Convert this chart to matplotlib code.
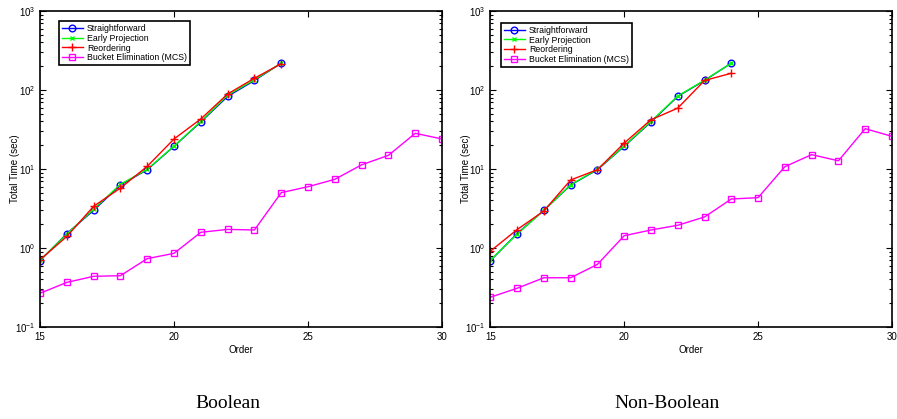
import matplotlib.pyplot as plt
import numpy as np

plt.rcParams['font.family'] = ['Liberation Sans', 'DejaVu Sans']

order = np.arange(15, 31)
order_short = np.arange(15, 25)

# Boolean
bool_straight = [0.69, 1.52, 3.0, 6.27, 9.8, 19.4, 39.4, 83, 132, 219]
bool_early = [0.70, 1.50, 3.1, 6.4, 9.9, 19.5, 40, 86, 135, 218]
bool_reorder = [0.71, 1.40, 3.37, 5.74, 10.8, 24, 43, 89, 141, 215]
bool_bucket = [0.267, 0.367, 0.438, 0.446, 0.733, 0.856, 1.58, 1.72, 1.69,
               5.02, 5.97, 7.4, 11.3, 14.9, 28.3, 24]

# Non-Boolean
nb_straight = [0.69, 1.52, 3.0, 6.27, 9.8, 19.4, 39.4, 83, 132, 219]
nb_early = [0.70, 1.50, 3.0, 6.3, 9.9, 19.6, 40, 84, 133, 218]
nb_reorder = [0.91, 1.71, 2.94, 7.26, 9.8, 21.3, 42, 59, 132, 163]
nb_bucket = [0.238, 0.309, 0.42, 0.42, 0.62, 1.43, 1.69, 1.94, 2.47,
             4.17, 4.34, 10.7, 15.2, 12.7, 32.4, 25.9]

labels = ["Straightforward", "Early Projection", "Reordering",
          "Bucket Elimination (MCS)"]
captions = ["Boolean", "Non-Boolean"]

fig = plt.figure(figsize=(8.97, 4.19), dpi=100)
ax1 = fig.add_axes([0.0446, 0.2196, 0.4482, 0.7541])
ax2 = fig.add_axes([0.5466, 0.2196, 0.4478, 0.7541])

panels = [(ax1, bool_straight, bool_early, bool_reorder, bool_bucket, (0.047, 0.968)),
          (ax2, nb_straight, nb_early, nb_reorder, nb_bucket, (0.027, 0.962))]

for ax, s, e, r, b, anchor in panels:
    ax.semilogy(order_short, s, color='#0000ff', marker='o', ms=4.8,
                mfc='none', lw=1, label=labels[0])
    ax.semilogy(order_short, e, color='#00ff00', marker='x', ms=3,
                lw=1, label=labels[1])
    ax.semilogy(order_short, r, color='#ff0000', marker='+', ms=5.5,
                lw=1, label=labels[2])
    ax.semilogy(order, b, color='#ff00ff', marker='s', ms=3.8,
                mfc='none', lw=1, label=labels[3])
    ax.set_xlim(15, 30)
    ax.set_ylim(0.1, 1000)
    ax.set_xticks([15, 20, 25, 30])
    ax.tick_params(which='both', direction='in', top=True, right=True,
                   labelsize=7, width=0.8)
    ax.tick_params(which='major', length=4)
    ax.tick_params(which='minor', length=2)
    ax.set_xlabel("Order", fontsize=7, labelpad=2)
    ax.set_ylabel("Total Time (sec)", fontsize=7, labelpad=-4)
    for sp in ax.spines.values():
        sp.set_linewidth(1.2)
    leg = ax.legend(loc='upper left', bbox_to_anchor=anchor,
                    fontsize=6.3, fancybox=False, edgecolor='black',
                    framealpha=1, handlelength=2.4, borderpad=0.3,
                    labelspacing=0.1, handletextpad=0.5, borderaxespad=0)
    leg.get_frame().set_linewidth(1.2)

fig.text(0.254, 0.027, captions[0], family=['Liberation Serif', 'DejaVu Serif'],
         fontsize=14, ha='center')
fig.text(0.744, 0.027, captions[1], family=['Liberation Serif', 'DejaVu Serif'],
         fontsize=14, ha='center')

fig.savefig("out.png", dpi=100)
